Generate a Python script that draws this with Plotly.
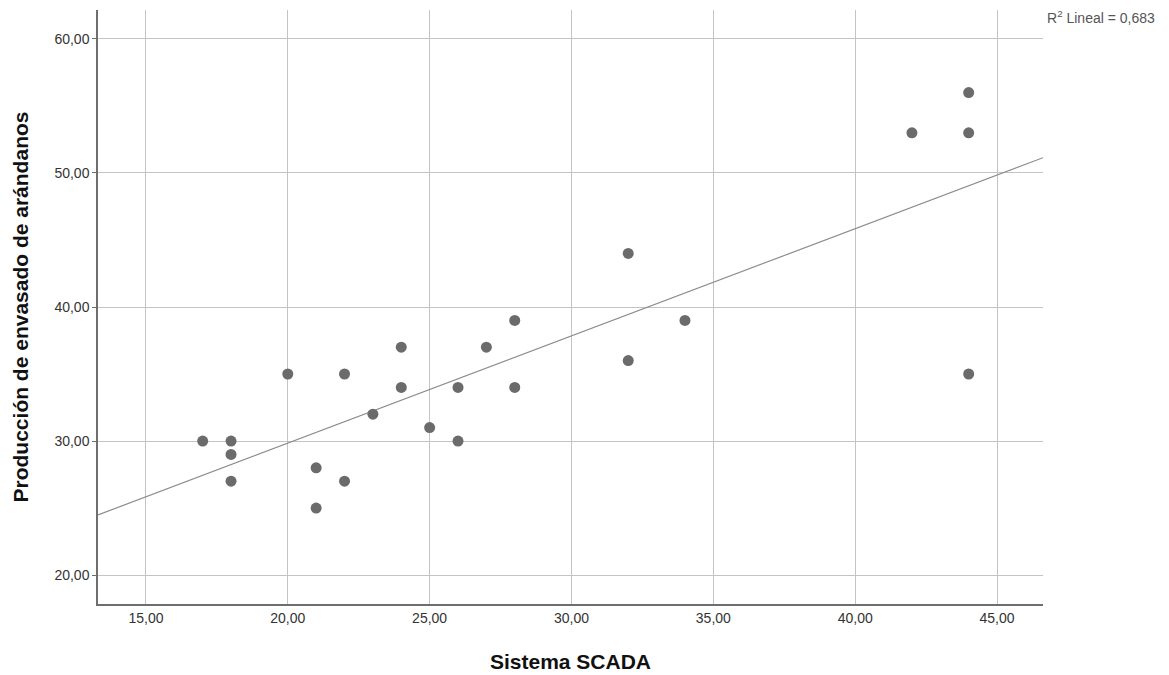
import numpy as np
import plotly.graph_objects as go

# Observations: SCADA system score vs. blueberry packing output
sistema_scada = [17, 18, 18, 18, 20, 21, 21, 22, 22, 23, 24, 24, 25,
                 26, 26, 27, 28, 28, 32, 32, 34, 42, 44, 44, 44]
produccion = [30, 30, 29, 27, 35, 28, 25, 35, 27, 32, 37, 34, 31,
              34, 30, 37, 39, 34, 44, 36, 39, 53, 56, 53, 35]
r2_label = "0,683"

x_range = [13.31, 46.62]
y_range = [17.84, 62.16]
x_ticks = [15, 20, 25, 30, 35, 40, 45]
y_ticks = [20, 30, 40, 50, 60]

# Least-squares fit line across the full x range
slope, intercept = np.polyfit(sistema_scada, produccion, 1)
fit_x = np.array(x_range)
fit_y = slope * fit_x + intercept

fig = go.Figure()
fig.add_trace(go.Scatter(
    x=fit_x, y=fit_y, mode="lines",
    line=dict(color="#8c8c8c", width=1.2),
    hoverinfo="skip", showlegend=False,
))
fig.add_trace(go.Scatter(
    x=sistema_scada, y=produccion, mode="markers",
    marker=dict(color="#6b6b6b", size=11, line=dict(width=0)),
    showlegend=False,
))

base_font = "Arial, Liberation Sans, sans-serif"
axis_font = dict(family=base_font, size=14, color="#333333")
title_font = dict(family=base_font, size=21, color="#111111")

fig.update_xaxes(
    range=x_range, tickvals=x_ticks,
    ticktext=[f"{v:.2f}".replace(".", ",") for v in x_ticks],
    showgrid=True, gridcolor="#c4c4c4", gridwidth=1.3,
    showline=True, linecolor="#6e6e6e", linewidth=1.5,
    ticks="", zeroline=False, automargin=False,
    tickfont=axis_font,
    title=dict(text="<b>Sistema SCADA</b>", standoff=30, font=title_font),
)
fig.update_yaxes(
    range=y_range, tickvals=y_ticks,
    ticktext=[f"{v:.2f}".replace(".", ",") for v in y_ticks],
    showgrid=True, gridcolor="#c4c4c4", gridwidth=1.3,
    showline=True, linecolor="#6e6e6e", linewidth=1.5,
    ticks="outside", ticklen=4, tickcolor="#6e6e6e", zeroline=False,
    automargin=False, tickfont=axis_font,
    title=dict(text="<b>Producción de envasado de arándanos</b>", standoff=20, font=title_font),
)

fig.add_annotation(
    x=1.002, y=1.006, xref="paper", yref="paper", xanchor="left", yanchor="top",
    text=f"R<sup>2</sup> Lineal = {r2_label}", showarrow=False,
    font=dict(family=base_font, size=14, color="#555555"),
)

fig.update_layout(
    width=1169, height=675,
    margin=dict(l=98, r=126, t=10, b=71),
    plot_bgcolor="white", paper_bgcolor="white",
)

fig.write_html("out.html")
